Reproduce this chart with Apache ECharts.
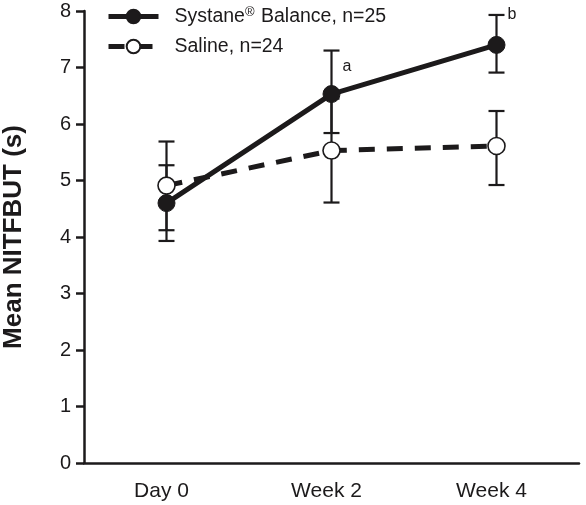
<!DOCTYPE html>
<html>
<head>
<meta charset="utf-8">
<script src="https://cdn.jsdelivr.net/npm/echarts@6/dist/echarts.min.js"></script>
<style>
html,body{margin:0;padding:0;background:#fff;}
#chart{width:586px;height:505px;}
</style>
</head>
<body>
<div id="chart"></div>
<script>
var categories = ['Day 0', 'Week 2', 'Week 4'];
var systaneMean = [4.60, 6.53, 7.40];
var systaneLow  = [3.93, 5.84, 6.91];
var systaneHigh = [5.27, 7.30, 7.93];
var systaneNotes = ['', 'a', 'b'];
var salineMean = [4.91, 5.53, 5.61];
var salineLow  = [4.12, 4.61, 4.92];
var salineHigh = [5.69, 6.45, 6.23];
var yTicks = [0, 1, 2, 3, 4, 5, 6, 7, 8];
var seriesNames = ['Systane{sup|®} Balance, n=25', 'Saline, n=24'];

var INK = '#1c1a1b';
var FONT = 'Liberation Sans, Arial, Helvetica, sans-serif';

function errData(low, high, notes) {
  return categories.map(function (c, i) {
    return [i, low[i], high[i], notes ? notes[i] : ''];
  });
}

function renderErr(params, api) {
  var x = api.value(0);
  var lo = api.coord([x, api.value(1)]);
  var hi = api.coord([x, api.value(2)]);
  var half = 8;
  var st = { stroke: INK, lineWidth: 2.2 };
  var children = [
    { type: 'line', shape: { x1: lo[0], y1: lo[1], x2: hi[0], y2: hi[1] }, style: st },
    { type: 'line', shape: { x1: lo[0] - half, y1: lo[1], x2: lo[0] + half, y2: lo[1] }, style: st },
    { type: 'line', shape: { x1: hi[0] - half, y1: hi[1], x2: hi[0] + half, y2: hi[1] }, style: st }
  ];
  var note = api.value(3);
  if (note) {
    children.push({
      type: 'text',
      x: hi[0] + 11,
      y: hi[1] + (note === 'a' ? 16 : 0),
      style: { text: note, fill: INK, font: '16px ' + FONT, textVerticalAlign: 'middle', textAlign: 'left' }
    });
  }
  return { type: 'group', children: children };
}

var chart = echarts.init(document.getElementById('chart'), null, { renderer: 'canvas' });
chart.setOption({
  animation: false,
  backgroundColor: '#fff',
  grid: { left: 84, right: 7, top: 11, bottom: 42, containLabel: false, outerBoundsMode: 'none' },
  legend: {
    left: 106, top: 6, padding: 0,
    orient: 'vertical',
    itemWidth: 50, itemHeight: 17, itemGap: 10,
    data: [seriesNames[0], seriesNames[1]],
    lineStyle: { width: 5 },
    formatter: function (n) { return n; },
    textStyle: {
      fontFamily: FONT, fontSize: 19.5, color: INK, padding: [0, 0, 0, 11],
      rich: { sup: { fontSize: 13, verticalAlign: 'top', padding: [0, 1, 8, 0], fontFamily: FONT, color: INK } }
    }
  },
  xAxis: {
    type: 'category',
    data: categories,
    boundaryGap: true,
    axisLine: { lineStyle: { color: INK, width: 2.5 } },
    axisTick: { alignWithLabel: false, length: 8, lineStyle: { color: INK, width: 2.5 } },
    axisLabel: { color: INK, fontFamily: FONT, fontSize: 21, margin: 18, padding: [0, 10, 0, 0] },
    splitLine: { show: false }
  },
  yAxis: {
    type: 'value',
    min: yTicks[0], max: yTicks[yTicks.length - 1], interval: 1,
    name: 'Mean NITFBUT (s)',
    nameLocation: 'middle',
    nameGap: 57,
    nameTextStyle: { fontFamily: FONT, fontWeight: 'bold', fontSize: 26, color: INK },
    axisLine: { show: true, lineStyle: { color: INK, width: 2.5 } },
    axisTick: { show: true, length: 8, lineStyle: { color: INK, width: 2.5 } },
    axisLabel: { color: INK, fontFamily: FONT, fontSize: 20, margin: 13 },
    splitLine: { show: false }
  },
  series: [
    {
      type: 'custom', name: 'errSaline', renderItem: renderErr,
      data: errData(salineLow, salineHigh), z: 1, silent: true
    },
    {
      type: 'custom', name: 'errSystane', renderItem: renderErr,
      data: errData(systaneLow, systaneHigh, systaneNotes), z: 1, silent: true
    },
    {
      name: seriesNames[1], type: 'line', data: salineMean, z: 3,
      symbol: 'circle', symbolSize: 17, showSymbol: true,
      lineStyle: { color: INK, width: 5, type: [16, 12] },
      itemStyle: { color: '#fff', borderColor: INK, borderWidth: 1.6 }
    },
    {
      name: seriesNames[0], type: 'line', data: systaneMean, z: 4,
      symbol: 'circle', symbolSize: 17, showSymbol: true,
      lineStyle: { color: INK, width: 5 },
      itemStyle: { color: INK, borderColor: INK, borderWidth: 1 }
    }
  ]
});
</script>
</body>
</html>
